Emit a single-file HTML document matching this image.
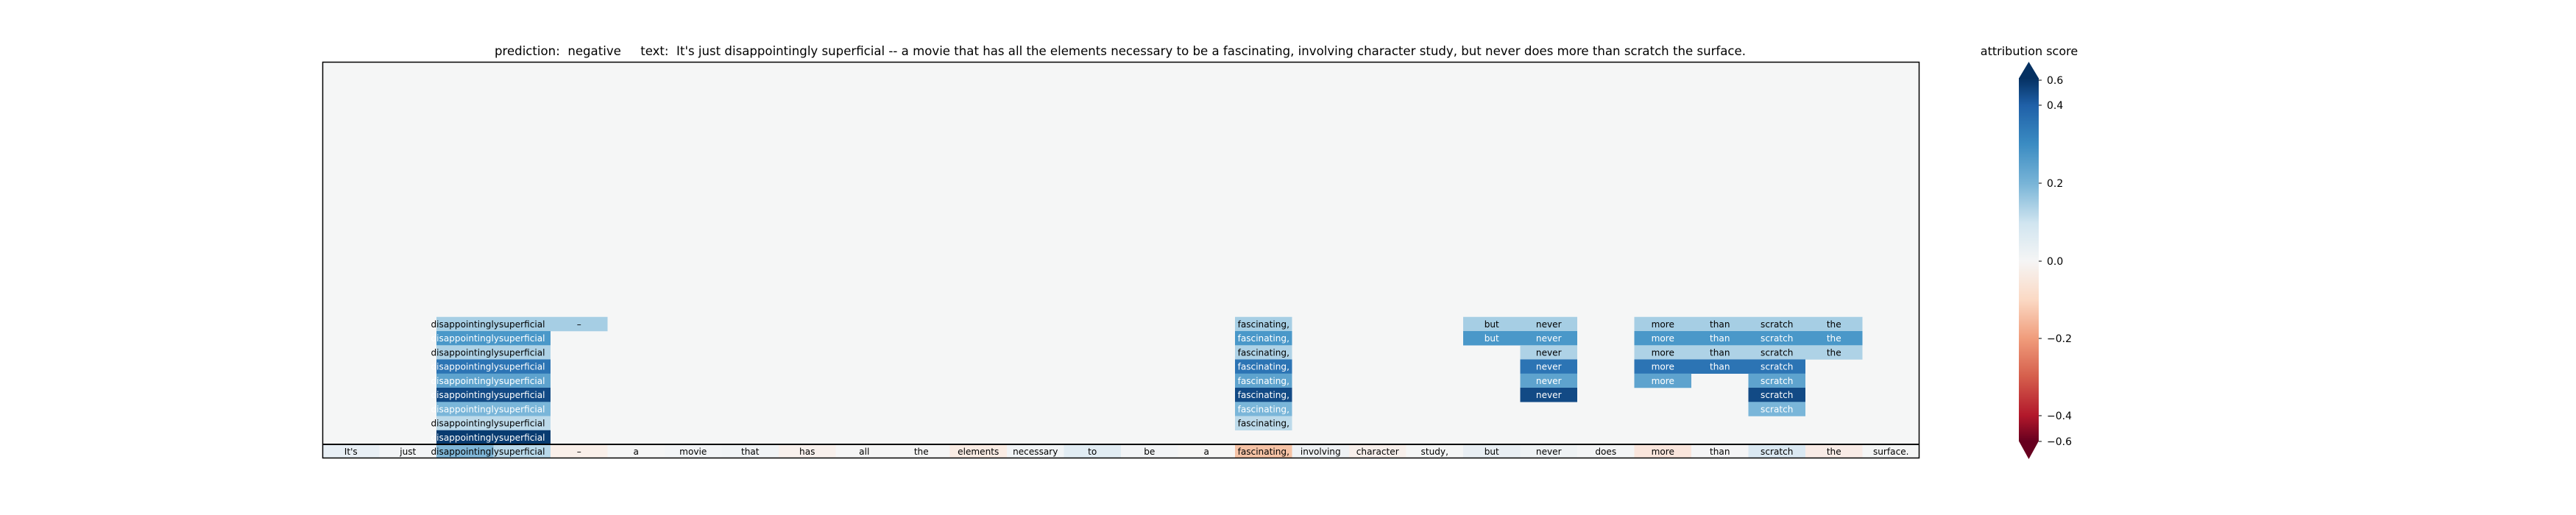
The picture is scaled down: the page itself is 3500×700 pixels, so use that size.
<!DOCTYPE html>
<html><head><meta charset="utf-8"><style>
html,body{margin:0;padding:0;background:#fff;width:3500px;height:700px;overflow:hidden}
svg{display:block}
text{font-family:"DejaVu Sans","Liberation Sans",sans-serif}
.c text{font-size:12.1px;text-anchor:middle}
.w{fill:#fff}
</style></head><body>
<svg width="3500" height="700" viewBox="0 0 3500 700" xmlns="http://www.w3.org/2000/svg">
<defs>
<linearGradient id="cb" x1="0" y1="0" x2="0" y2="1">
<stop offset="0" stop-color="#053061"/>
<stop offset="0.075" stop-color="#1f60a8"/>
<stop offset="0.18" stop-color="#3a8bc2"/>
<stop offset="0.29" stop-color="#78b4d7"/>
<stop offset="0.40" stop-color="#d1e5f0"/>
<stop offset="0.504" stop-color="#f5f5f5"/>
<stop offset="0.61" stop-color="#fbd9c4"/>
<stop offset="0.717" stop-color="#f09c7b"/>
<stop offset="0.82" stop-color="#d6604d"/>
<stop offset="0.929" stop-color="#b2182b"/>
<stop offset="1" stop-color="#67001f"/>
</linearGradient>
</defs>
<text x="1522" y="75" font-size="17" text-anchor="middle" textLength="1700" lengthAdjust="spacingAndGlyphs" style="white-space:pre" xml:space="preserve">prediction:  negative     text:  It's just disappointingly superficial -- a movie that has all the elements necessary to be a fascinating, involving character study, but never does more than scratch the surface.</text>
<rect x="438" y="84" width="2170" height="539" fill="#f5f6f6"/>
<g class="c">
<g transform="translate(0,430.75)">
<rect x="593" width="77.5" height="19.5" fill="#a6cee4"/><rect x="670.5" width="77.5" height="19.5" fill="#a6cee4"/><rect x="748" width="77.5" height="19.5" fill="#a6cee4"/><rect x="1678" width="77.5" height="19.5" fill="#a6cee4"/><rect x="1988" width="77.5" height="19.5" fill="#a6cee4"/><rect x="2065.5" width="77.5" height="19.5" fill="#a6cee4"/><rect x="2220.5" width="77.5" height="19.5" fill="#a6cee4"/><rect x="2298" width="77.5" height="19.5" fill="#a6cee4"/><rect x="2375.5" width="77.5" height="19.5" fill="#a6cee4"/><rect x="2453" width="77.5" height="19.5" fill="#a6cee4"/>
<text x="631.75" y="14">disappointingly</text><text x="709.25" y="14">superficial</text><text x="786.75" y="14">–</text><text x="1716.75" y="14">fascinating,</text><text x="2026.75" y="14">but</text><text x="2104.25" y="14">never</text><text x="2259.25" y="14">more</text><text x="2336.75" y="14">than</text><text x="2414.25" y="14">scratch</text><text x="2491.75" y="14">the</text>
</g>
<g transform="translate(0,450)">
<rect x="593" width="77.5" height="19.5" fill="#4a98c9"/><rect x="670.5" width="77.5" height="19.5" fill="#4a98c9"/><rect x="1678" width="77.5" height="19.5" fill="#4a98c9"/><rect x="1988" width="77.5" height="19.5" fill="#4a98c9"/><rect x="2065.5" width="77.5" height="19.5" fill="#4a98c9"/><rect x="2220.5" width="77.5" height="19.5" fill="#4a98c9"/><rect x="2298" width="77.5" height="19.5" fill="#4a98c9"/><rect x="2375.5" width="77.5" height="19.5" fill="#4a98c9"/><rect x="2453" width="77.5" height="19.5" fill="#4a98c9"/>
<g class="w"><text x="631.75" y="14">disappointingly</text><text x="709.25" y="14">superficial</text><text x="1716.75" y="14">fascinating,</text><text x="2026.75" y="14">but</text><text x="2104.25" y="14">never</text><text x="2259.25" y="14">more</text><text x="2336.75" y="14">than</text><text x="2414.25" y="14">scratch</text><text x="2491.75" y="14">the</text></g>
</g>
<g transform="translate(0,469.25)">
<rect x="593" width="77.5" height="19.5" fill="#aed2e6"/><rect x="670.5" width="77.5" height="19.5" fill="#aed2e6"/><rect x="1678" width="77.5" height="19.5" fill="#aed2e6"/><rect x="2065.5" width="77.5" height="19.5" fill="#aed2e6"/><rect x="2220.5" width="77.5" height="19.5" fill="#aed2e6"/><rect x="2298" width="77.5" height="19.5" fill="#aed2e6"/><rect x="2375.5" width="77.5" height="19.5" fill="#aed2e6"/><rect x="2453" width="77.5" height="19.5" fill="#aed2e6"/>
<text x="631.75" y="14">disappointingly</text><text x="709.25" y="14">superficial</text><text x="1716.75" y="14">fascinating,</text><text x="2104.25" y="14">never</text><text x="2259.25" y="14">more</text><text x="2336.75" y="14">than</text><text x="2414.25" y="14">scratch</text><text x="2491.75" y="14">the</text>
</g>
<g transform="translate(0,488.5)">
<rect x="593" width="77.5" height="19.5" fill="#2c74b4"/><rect x="670.5" width="77.5" height="19.5" fill="#2c74b4"/><rect x="1678" width="77.5" height="19.5" fill="#2c74b4"/><rect x="2065.5" width="77.5" height="19.5" fill="#2c74b4"/><rect x="2220.5" width="77.5" height="19.5" fill="#2c74b4"/><rect x="2298" width="77.5" height="19.5" fill="#2c74b4"/><rect x="2375.5" width="77.5" height="19.5" fill="#2c74b4"/>
<g class="w"><text x="631.75" y="14">disappointingly</text><text x="709.25" y="14">superficial</text><text x="1716.75" y="14">fascinating,</text><text x="2104.25" y="14">never</text><text x="2259.25" y="14">more</text><text x="2336.75" y="14">than</text><text x="2414.25" y="14">scratch</text></g>
</g>
<g transform="translate(0,507.75)">
<rect x="593" width="77.5" height="19.5" fill="#5ea3ce"/><rect x="670.5" width="77.5" height="19.5" fill="#5ea3ce"/><rect x="1678" width="77.5" height="19.5" fill="#5ea3ce"/><rect x="2065.5" width="77.5" height="19.5" fill="#5ea3ce"/><rect x="2220.5" width="77.5" height="19.5" fill="#5ea3ce"/><rect x="2375.5" width="77.5" height="19.5" fill="#5ea3ce"/>
<g class="w"><text x="631.75" y="14">disappointingly</text><text x="709.25" y="14">superficial</text><text x="1716.75" y="14">fascinating,</text><text x="2104.25" y="14">never</text><text x="2259.25" y="14">more</text><text x="2414.25" y="14">scratch</text></g>
</g>
<g transform="translate(0,527)">
<rect x="593" width="77.5" height="19.5" fill="#124a85"/><rect x="670.5" width="77.5" height="19.5" fill="#124a85"/><rect x="1678" width="77.5" height="19.5" fill="#124a85"/><rect x="2065.5" width="77.5" height="19.5" fill="#124a85"/><rect x="2375.5" width="77.5" height="19.5" fill="#124a85"/>
<g class="w"><text x="631.75" y="14">disappointingly</text><text x="709.25" y="14">superficial</text><text x="1716.75" y="14">fascinating,</text><text x="2104.25" y="14">never</text><text x="2414.25" y="14">scratch</text></g>
</g>
<g transform="translate(0,546.25)">
<rect x="593" width="77.5" height="19.5" fill="#7ab6d9"/><rect x="670.5" width="77.5" height="19.5" fill="#7ab6d9"/><rect x="1678" width="77.5" height="19.5" fill="#7ab6d9"/><rect x="2375.5" width="77.5" height="19.5" fill="#7ab6d9"/>
<g class="w"><text x="631.75" y="14">disappointingly</text><text x="709.25" y="14">superficial</text><text x="1716.75" y="14">fascinating,</text><text x="2414.25" y="14">scratch</text></g>
</g>
<g transform="translate(0,565.5)">
<rect x="593" width="77.5" height="19.5" fill="#bcdaea"/><rect x="670.5" width="77.5" height="19.5" fill="#bcdaea"/><rect x="1678" width="77.5" height="19.5" fill="#bcdaea"/>
<text x="631.75" y="14">disappointingly</text><text x="709.25" y="14">superficial</text><text x="1716.75" y="14">fascinating,</text>
</g>
<g transform="translate(0,584.75)">
<rect x="593" width="77.5" height="19.5" fill="#083b70"/><rect x="670.5" width="77.5" height="19.5" fill="#083b70"/>
<g class="w"><text x="631.75" y="14">disappointingly</text><text x="709.25" y="14">superficial</text></g>
</g>
<g transform="translate(0,604)">
<rect x="438" width="77.5" height="19" fill="#e8eff5"/><rect x="515.5" width="77.5" height="19" fill="#f2f4f6"/><rect x="593" width="77.5" height="19" fill="#7fb6d7"/><rect x="670.5" width="77.5" height="19" fill="#b8d8e9"/><rect x="748" width="77.5" height="19" fill="#f9efe9"/><rect x="825.5" width="77.5" height="19" fill="#f5f5f5"/><rect x="903" width="77.5" height="19" fill="#f2f4f6"/><rect x="980.5" width="77.5" height="19" fill="#f0f3f5"/><rect x="1058" width="77.5" height="19" fill="#f8f0ec"/><rect x="1135.5" width="77.5" height="19" fill="#f5f5f5"/><rect x="1213" width="77.5" height="19" fill="#f5f5f5"/><rect x="1290.5" width="77.5" height="19" fill="#faece4"/><rect x="1368" width="77.5" height="19" fill="#f1f4f6"/><rect x="1445.5" width="77.5" height="19" fill="#e1ecf3"/><rect x="1523" width="77.5" height="19" fill="#f2f4f6"/><rect x="1600.5" width="77.5" height="19" fill="#f6f5f4"/><rect x="1678" width="77.5" height="19" fill="#f5c2a5"/><rect x="1755.5" width="77.5" height="19" fill="#eef1f4"/><rect x="1833" width="77.5" height="19" fill="#f7efeb"/><rect x="1910.5" width="77.5" height="19" fill="#f4f5f5"/><rect x="1988" width="77.5" height="19" fill="#e8eef3"/><rect x="2065.5" width="77.5" height="19" fill="#eef2f4"/><rect x="2143" width="77.5" height="19" fill="#f3f4f5"/><rect x="2220.5" width="77.5" height="19" fill="#f9e5dc"/><rect x="2298" width="77.5" height="19" fill="#f4f4f5"/><rect x="2375.5" width="77.5" height="19" fill="#dae8f2"/><rect x="2453" width="77.5" height="19" fill="#f8ebe6"/><rect x="2530.5" width="77.5" height="19" fill="#f4f5f5"/>
<text x="476.75" y="13.8">It's</text><text x="554.25" y="13.8">just</text><text x="631.75" y="13.8">disappointingly</text><text x="709.25" y="13.8">superficial</text><text x="786.75" y="13.8">–</text><text x="864.25" y="13.8">a</text><text x="941.75" y="13.8">movie</text><text x="1019.25" y="13.8">that</text><text x="1096.75" y="13.8">has</text><text x="1174.25" y="13.8">all</text><text x="1251.75" y="13.8">the</text><text x="1329.25" y="13.8">elements</text><text x="1406.75" y="13.8">necessary</text><text x="1484.25" y="13.8">to</text><text x="1561.75" y="13.8">be</text><text x="1639.25" y="13.8">a</text><text x="1716.75" y="13.8">fascinating,</text><text x="1794.25" y="13.8">involving</text><text x="1871.75" y="13.8">character</text><text x="1949.25" y="13.8">study,</text><text x="2026.75" y="13.8">but</text><text x="2104.25" y="13.8">never</text><text x="2181.75" y="13.8">does</text><text x="2259.25" y="13.8">more</text><text x="2336.75" y="13.8">than</text><text x="2414.25" y="13.8">scratch</text><text x="2491.75" y="13.8">the</text><text x="2569.25" y="13.8">surface.</text>
</g>
</g>
<line x1="438" y1="604" x2="2608" y2="604" stroke="#000" stroke-width="2"/>
<rect x="438.5" y="84.5" width="2169" height="538" fill="none" stroke="#000" stroke-width="1.5"/>
<text x="2757" y="75" font-size="16" text-anchor="middle">attribution score</text>
<rect x="2743" y="106" width="27" height="494" fill="url(#cb)"/>
<polygon points="2743,106.5 2770,106.5 2756.5,84" fill="#053061"/>
<polygon points="2743,599.5 2770,599.5 2756.5,624" fill="#67001f"/>
<g stroke="#000" stroke-width="1">
<line x1="2770" y1="109" x2="2774" y2="109"/><line x1="2770" y1="143" x2="2774" y2="143"/><line x1="2770" y1="249" x2="2774" y2="249"/><line x1="2770" y1="355" x2="2774" y2="355"/><line x1="2770" y1="460" x2="2774" y2="460"/><line x1="2770" y1="565" x2="2774" y2="565"/><line x1="2770" y1="600" x2="2774" y2="600"/>
</g>
<g font-size="14">
<text x="2781" y="114">0.6</text><text x="2781" y="148">0.4</text><text x="2781" y="254">0.2</text><text x="2781" y="360">0.0</text><text x="2781" y="465">−0.2</text><text x="2781" y="570">−0.4</text><text x="2781" y="605">−0.6</text>
</g>
</svg>
</body></html>
